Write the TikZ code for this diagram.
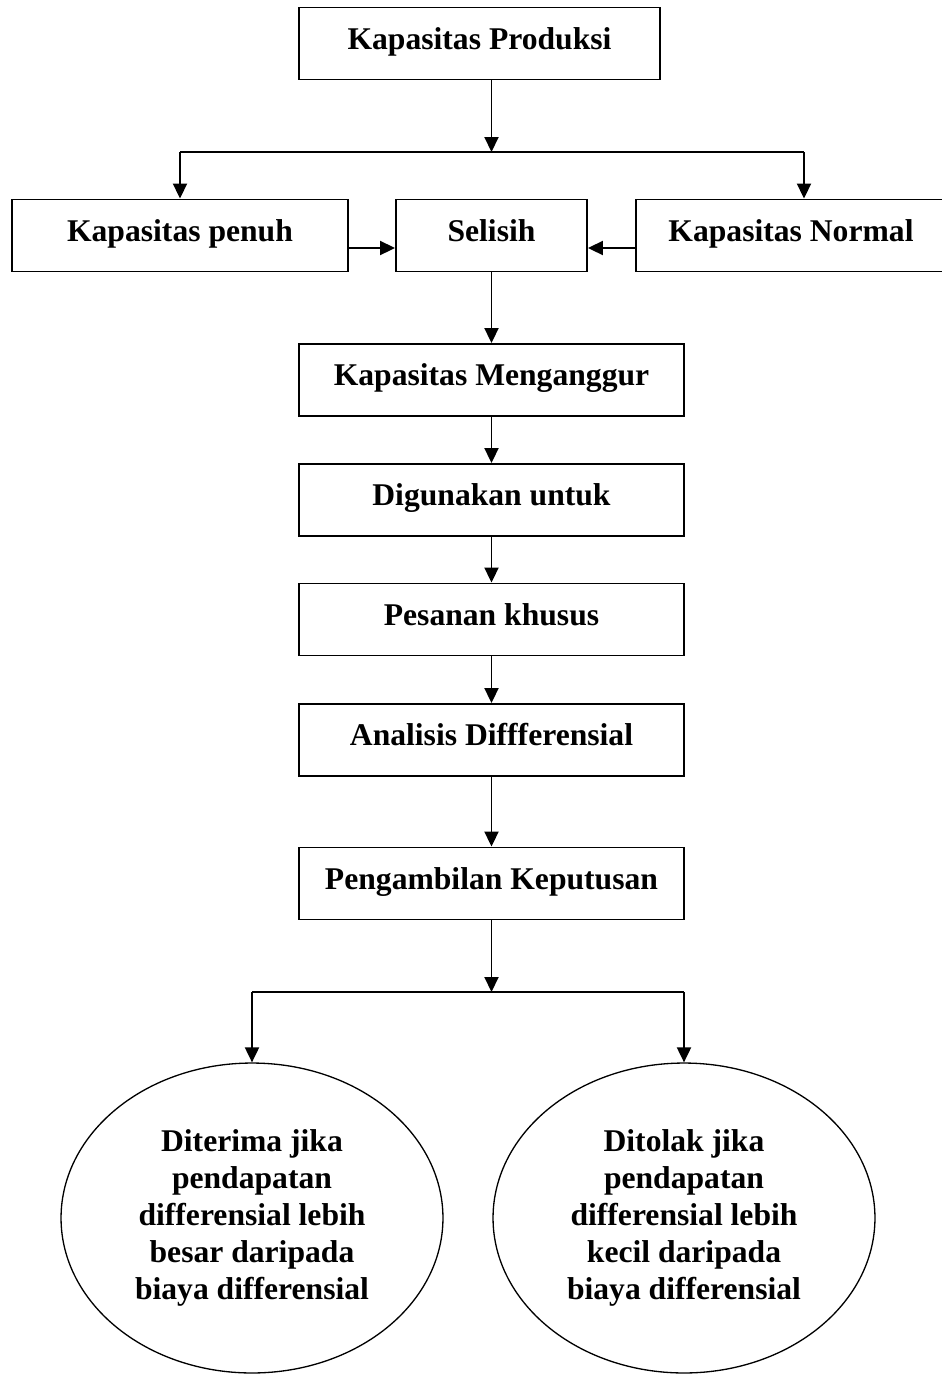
\documentclass[tikz,border=0pt]{standalone}
\usepackage{fontspec}
\setmainfont{Liberation Serif}
\usepackage{tikz}
\usetikzlibrary{arrows.meta, shapes.geometric}

\tikzset{
  kotak/.style={draw, line width=1.1pt, minimum height=1.44cm, inner sep=0pt,
    font=\bfseries\fontsize{18}{21}\selectfont, text height=13pt, text depth=6.6pt},
  oval/.style={draw, ellipse, line width=0.75pt, inner sep=0pt, align=center,
    minimum width=7.64cm, minimum height=6.2cm,
    font=\bfseries\fontsize{18}{21}\selectfont},
}

\begin{document}
\begin{tikzpicture}[x=0.02cm, y=-0.02cm, line width=1.1pt,
    >={Triangle[length=0.3cm, width=0.28cm]}]
    \useasboundingbox (0, 0) rectangle (942, 1374);
    \clip (0, 0) rectangle (942, 1374);

    \node[kotak, minimum width=7.22cm] (produksi) at (479.5, 43.5){Kapasitas Produksi};
    \node[kotak, minimum width=6.72cm] (penuh) at (180, 235.5){Kapasitas penuh};
    \node[kotak, minimum width=3.82cm] (selisih) at (491.5, 235.5){Selisih};
    \node[kotak, minimum width=6.2cm] (normal) at (791, 235.5){Kapasitas Normal};
    \node[kotak, minimum width=7.7cm] (menganggur) at (491.5, 380){Kapasitas Menganggur};
    \node[kotak, minimum width=7.7cm] (digunakan) at (491.5, 500){Digunakan untuk};
    \node[kotak, minimum width=7.7cm] (pesanan) at (491.5, 619.5){Pesanan khusus};
    \node[kotak, minimum width=7.7cm] (analisis) at (491.5, 740){Analisis Diffferensial};
    \node[kotak, minimum width=7.7cm] (keputusan) at (491.5, 883.5){Pengambilan Keputusan};
    \node[oval] (terima) at (252, 1218){Diterima jika\\pendapatan\\differensial lebih\\besar daripada\\biaya differensial};
    \node[oval] (tolak) at (684, 1218){Ditolak jika\\pendapatan\\differensial lebih\\kecil daripada\\biaya differensial};

    % percabangan atas
    \coordinate (cabang) at (491.5, 152);
    \coordinate (kiri) at (180, 152);
    \coordinate (kanan) at (804, 152);
    \draw[->] (produksi.south -| cabang)--(cabang);
    \draw (kiri)--(kanan);
    \draw[->] (kiri)--(penuh);
    \draw[->] (kanan)--(kanan |- normal.north);
    \draw[->] ([yshift=-0.25cm]penuh.east)--([yshift=-0.25cm]selisih.west);
    \draw[->] ([yshift=-0.25cm]normal.west)--([yshift=-0.25cm]selisih.east);

    % alur tengah
    \foreach \a/\b in {selisih/menganggur, menganggur/digunakan, digunakan/pesanan,
        pesanan/analisis, analisis/keputusan}
      \draw[->] (\a)--(\b);

    % percabangan bawah
    \coordinate (cabang2) at (491.5, 992);
    \coordinate (kiri2) at (252, 992);
    \coordinate (kanan2) at (684, 992);
    \draw[->] (keputusan)--(cabang2);
    \draw (kiri2)--(kanan2);
    \draw[->] (kiri2)--(terima);
    \draw[->] (kanan2)--(tolak);
\end{tikzpicture}
\end{document}
